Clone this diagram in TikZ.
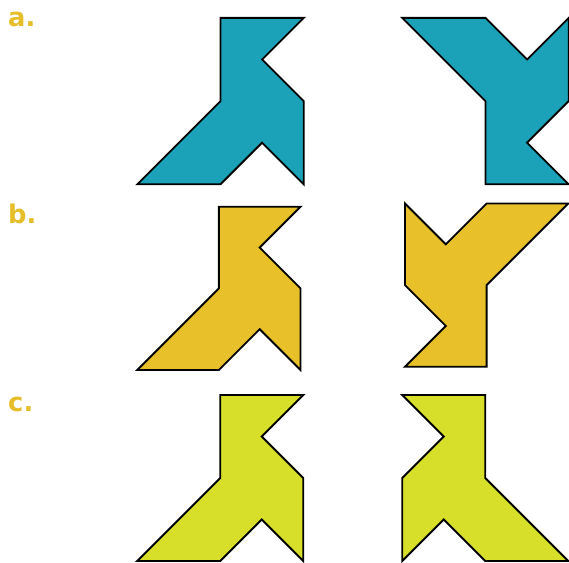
\documentclass[tikz,border=0pt]{standalone}
\usepackage{fontspec}
\setmainfont{DejaVu Sans}
\usepackage{xcolor}
\usepackage{tikz}
\usetikzlibrary{positioning}
\definecolor{tealfill}{RGB}{28,162,184}
\definecolor{goldfill}{RGB}{232,193,42}
\definecolor{limefill}{RGB}{215,223,42}
\definecolor{labelgold}{RGB}{229,190,42}

\begin{document}
\begin{tikzpicture}[x=0.03cm, y=0.03cm,
    piece/.style={draw=black, line width=1.6pt, line join=miter},
    rowlabel/.style={anchor=base west, inner sep=0pt, text=labelgold,
        font=\fontsize{22}{22}\selectfont\bfseries}]
    % Frame
    \useasboundingbox (0,0) rectangle (569,562);
    
    % Row labels
    \node[rowlabel] (la) at (8,535.3) {a.};
    \node[rowlabel] (lb) at (8,338) {b.};
    \node[rowlabel] (lc) at (8,150.3) {c.};
    
    % Row a
    \begin{scope}[shift={(137.3,377.7)}, scale=41.6]
        \draw[piece, fill=tealfill] (0,0) -- (2,0) -- (3,1) -- (4,0) -- (4,2) -- (3,3) -- (4,4) -- (2,4) -- (2,2) -- cycle;
    \end{scope}
    \begin{scope}[shift={(402.3,377.7)}, scale=41.6]
        \draw[piece, fill=tealfill] (0,4) -- (2,4) -- (3,3) -- (4,4) -- (4,2) -- (3,1) -- (4,0) -- (2,0) -- (2,2) -- cycle;
    \end{scope}
    
    % Row b
    \begin{scope}[shift={(137.3,192)}, scale=40.8]
        \draw[piece, fill=goldfill] (0,0) -- (2,0) -- (3,1) -- (4,0) -- (4,2) -- (3,3) -- (4,4) -- (2,4) -- (2,2) -- cycle;
    \end{scope}
    \begin{scope}[shift={(405,195.3)}, scale=40.8]
        \draw[piece, fill=goldfill] (0,4) -- (1,3) -- (2,4) -- (4,4) -- (2,2) -- (2,0) -- (0,0) -- (1,1) -- (0,2) -- cycle;
    \end{scope}
    
    % Row c
    \begin{scope}[shift={(137.3,1)}, scale=41.5]
        \draw[piece, fill=limefill] (0,0) -- (2,0) -- (3,1) -- (4,0) -- (4,2) -- (3,3) -- (4,4) -- (2,4) -- (2,2) -- cycle;
    \end{scope}
    \begin{scope}[shift={(402.3,1)}, scale=41.5]
        \draw[piece, fill=limefill] (0,4) -- (2,4) -- (2,2) -- (4,0) -- (2,0) -- (1,1) -- (0,0) -- (0,2) -- (1,3) -- cycle;
    \end{scope}
\end{tikzpicture}
\end{document}
